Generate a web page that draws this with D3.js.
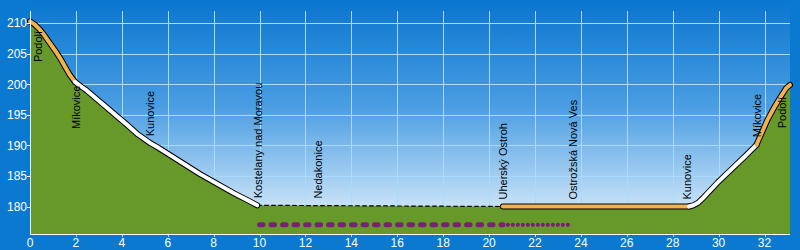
<!DOCTYPE html>
<html><head><meta charset="utf-8">
<script src="https://cdn.jsdelivr.net/npm/d3@7"></script>
<style>html,body{margin:0;padding:0;background:#0b79d0;}svg{display:block;}</style>
</head><body>
<script>
// ---- data ----
const profileKm   = [0,0.2,0.44,0.65,0.87,1.1,1.31,1.52,1.74,1.96,2.2,2.47,4.22,4.7,5.23,5.6,7.41,8.87,9.6,9.9,20.6,28.71,28.9,29.1,29.3,29.55,29.95,30.67,31.2,31.65,32.13,32.45,32.71,32.95,33.11];
const profileElev = [210.3,209.8,208.9,207.9,206.7,205.5,204.3,202.9,201.5,200.4,199.7,199.0,193.4,191.8,190.4,189.6,185.3,182.2,180.8,180.2,180,180,180.2,180.6,181.3,182.3,183.9,186.5,188.4,190.1,194.2,196.4,198.0,199.4,199.9];
const segFrom = [0,1.96,9.9,20.6,28.71,31.65];
const segTo   = [1.96,9.9,20.6,28.71,31.65,33.11];
const segKind = ["orange","white","dashed","orange","white","orange"];
const placeNames = ["Podolí","Míkovice","Kunovice","Kostelany nad Moravou","Nedakonice","Uherský Ostroh","Ostrožská Nová Ves","Kunovice","Míkovice","Podolí"];
const placeKm    = [0.35,2.0,5.25,9.95,12.55,20.6,23.65,28.65,31.66,32.78];
const markFrom = [10.0,20.6];
const markTo   = [20.6,23.45];
const markKind = ["dash","dot"];
const markElev = 177.0;
const xTicks = d3.range(0,33,2);
const yTicks = [180,185,190,195,200,205,210];

// ---- layout ----
const W=800,H=250, L=30, R=790, T=11, B=234;
const x = d3.scaleLinear().domain([0,33.11]).range([L,R]);
const y = d3.scaleLinear().domain([175.5,212]).range([B,T]);
const pts = profileKm.map((k,i)=>({k, e:profileElev[i]}));
const elevAt = k => { for(let i=1;i<pts.length;i++){ if(k<=pts[i].k){const a=pts[i-1],b=pts[i];return a.e+(b.e-a.e)*(k-a.k)/(b.k-a.k);} } return pts[pts.length-1].e; };

const svg = d3.select("body").append("svg").attr("width",W).attr("height",H);
const defs = svg.append("defs");
const g = defs.append("linearGradient").attr("id","bg").attr("x1",0).attr("y1",0).attr("x2",0).attr("y2",1);
g.append("stop").attr("offset","0%").attr("stop-color","#0a76cf");
g.append("stop").attr("offset","45%").attr("stop-color","#4a9de2");
g.append("stop").attr("offset","100%").attr("stop-color","#eaf5fd");

svg.append("rect").attr("width",W).attr("height",H).attr("fill","#0b79d0");
svg.append("rect").attr("x",L).attr("y",0).attr("width",R-L).attr("height",B).attr("fill","url(#bg)");

// grid
svg.append("g").selectAll("line").data(xTicks.filter(d=>d>0)).join("line")
  .attr("x1",d=>Math.round(x(d))+0.5).attr("x2",d=>Math.round(x(d))+0.5).attr("y1",T).attr("y2",B+3)
  .attr("stroke","#a9dbff").attr("stroke-width",1);
svg.append("g").selectAll("line").data(yTicks).join("line")
  .attr("y1",d=>Math.round(y(d))+0.5).attr("y2",d=>Math.round(y(d))+0.5).attr("x1",L).attr("x2",R)
  .attr("stroke","#a9dbff").attr("stroke-width",1);

// area
const area = d3.area().x(d=>x(d.k)).y0(B).y1(d=>y(d.e));
svg.append("path").datum(pts).attr("d",area).attr("fill","#66992a");

// purple marks
const line = d3.line().x(d=>x(d.k)).y(d=>y(d.e));
markFrom.forEach((a,i)=>{
  const b=markTo[i];
  svg.append("line").attr("x1",x(a)).attr("x2",x(b)).attr("y1",y(markElev)).attr("y2",y(markElev))
    .attr("stroke","#7b1f7a").attr("stroke-linecap","round")
    .attr("stroke-width",markKind[i]==="dash"?5:4.2)
    .attr("stroke-dasharray",markKind[i]==="dash"?"3.5 8":"0 5");
});

// profile segments
const segPts = (a,b)=>{
  const arr=[{k:a,e:elevAt(a)}];
  pts.forEach(p=>{ if(p.k>a+1e-6 && p.k<b-1e-6) arr.push(p); });
  arr.push({k:b,e:elevAt(b)});
  return arr;
};
segFrom.forEach((a,i)=>{
  const d = segPts(a,segTo[i]);
  if(segKind[i]==="dashed"){
    svg.append("path").datum(d).attr("d",line).attr("fill","none").attr("stroke","#000")
      .attr("stroke-width",1.2).attr("stroke-dasharray","4.5 2.5");
  }
});
segFrom.forEach((a,i)=>{
  if(segKind[i]==="dashed") return;
  const d = segPts(a,segTo[i]);
  svg.append("path").datum(d).attr("d",line).attr("fill","none").attr("stroke","#000")
    .attr("stroke-width",6).attr("stroke-linecap","round").attr("stroke-linejoin","round");
});
segFrom.forEach((a,i)=>{
  if(segKind[i]==="dashed") return;
  const d = segPts(a,segTo[i]);
  svg.append("path").datum(d).attr("d",line).attr("fill","none")
    .attr("stroke",segKind[i]==="orange"?"#f2b24e":"#ffffff")
    .attr("stroke-width",4).attr("stroke-linecap","round").attr("stroke-linejoin","round");
});

// place labels
placeNames.forEach((n,i)=>{
  const k=placeKm[i], e=elevAt(k), ly=y(e);
  const below = e>195;
  const t = svg.append("text").text(n)
    .attr("font-family","'Liberation Sans',Arial,sans-serif").attr("font-size",11).attr("fill","#000")
    .attr("dy","0.35em");
  if(below){
    t.attr("text-anchor","end").attr("transform",`translate(${x(k)},${ly+3}) rotate(-90)`);
  } else {
    t.attr("text-anchor","start").attr("transform",`translate(${x(k)},${ly-7}) rotate(-90)`);
  }
});

// axes
svg.append("line").attr("x1",L+0.5).attr("x2",L+0.5).attr("y1",T).attr("y2",B).attr("stroke","#e8f4ff");
svg.append("line").attr("x1",L).attr("x2",R).attr("y1",B+0.5).attr("y2",B+0.5).attr("stroke","#ffffff");
const yAx = svg.append("g");
yAx.selectAll("line").data(yTicks).join("line")
  .attr("x1",L-3).attr("x2",L).attr("y1",d=>Math.round(y(d))+0.5).attr("y2",d=>Math.round(y(d))+0.5).attr("stroke","#ffffff");
yAx.selectAll("text").data(yTicks).join("text").text(d=>d)
  .attr("x",L-3).attr("y",d=>y(d)).attr("dy","0.35em").attr("text-anchor","end")
  .attr("font-family","'Liberation Sans',Arial,sans-serif").attr("font-size",12).attr("fill","#ffffff");
svg.append("g").selectAll("text").data(xTicks).join("text").text(d=>d)
  .attr("x",d=>x(d)).attr("y",247).attr("text-anchor","middle")
  .attr("font-family","'Liberation Sans',Arial,sans-serif").attr("font-size",12).attr("fill","#ffffff");
</script>
</body></html>
